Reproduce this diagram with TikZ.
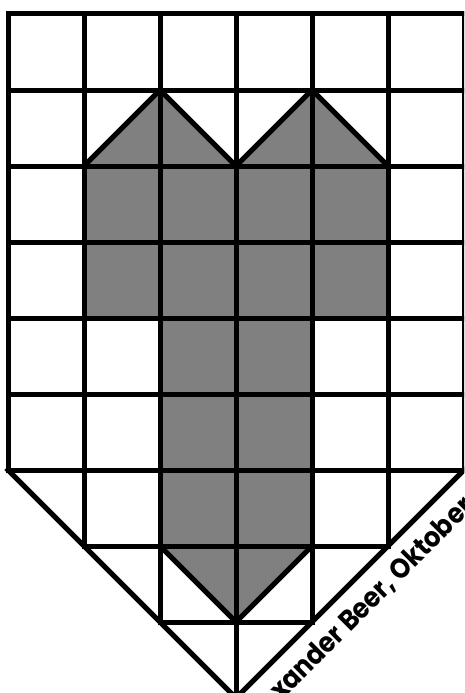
\documentclass[tikz,border=0pt]{standalone}
\usepackage{fontspec}
\setmainfont{Poppins}
\newfontfamily\signfont[FakeStretch=0.9]{Poppins}
\begin{document}
\begin{tikzpicture}[x=1pt,y=-1pt,
  gridline/.style={line width=5pt,line cap=rect,line join=miter},
  shade/.style={fill=gray},
  sign/.style={rotate=45,anchor=base west,inner sep=0pt,font=\signfont\fontsize{28}{30}\selectfont\bfseries}]
\useasboundingbox (0,0) rectangle (464,693);
\clip (0,0) rectangle (464,693);
\fill[white] (0,0) rectangle (464,693);
% gray figure
\fill[shade] (84,166) -- (160,90) -- (236,166) -- (312,90) -- (388,166)
  -- (388,318) -- (312,318) -- (312,546) -- (236,622) -- (160,546)
  -- (160,318) -- (84,318) -- cycle;
% horizontal lines of the square part
\foreach \yy in {14,90,166,242,318,394,470}
  \draw[gridline] (8,\yy) -- (464,\yy);
\draw[gridline] (84,546) -- (388,546);
\draw[gridline] (160,622) -- (312,622);
% vertical lines
\draw[gridline] (8,14) -- (8,470);
\draw[gridline] (84,14) -- (84,546);
\draw[gridline] (160,14) -- (160,622);
\draw[gridline] (236,14) -- (236,698);
\draw[gridline] (312,14) -- (312,622);
\draw[gridline] (388,14) -- (388,546);
\draw[gridline] (464,14) -- (464,470);
% outer point
\draw[gridline] (8,470) -- (236,698) -- (464,470);
% diagonals of the figure
\draw[gridline] (84,166) -- (160,90) -- (236,166) -- (312,90) -- (388,166);
\draw[gridline] (160,546) -- (236,622) -- (312,546);
% signature
\node[sign] (sig) at (350,633) {\llap{Alexander }Beer, Oktober};
\end{tikzpicture}
\end{document}
